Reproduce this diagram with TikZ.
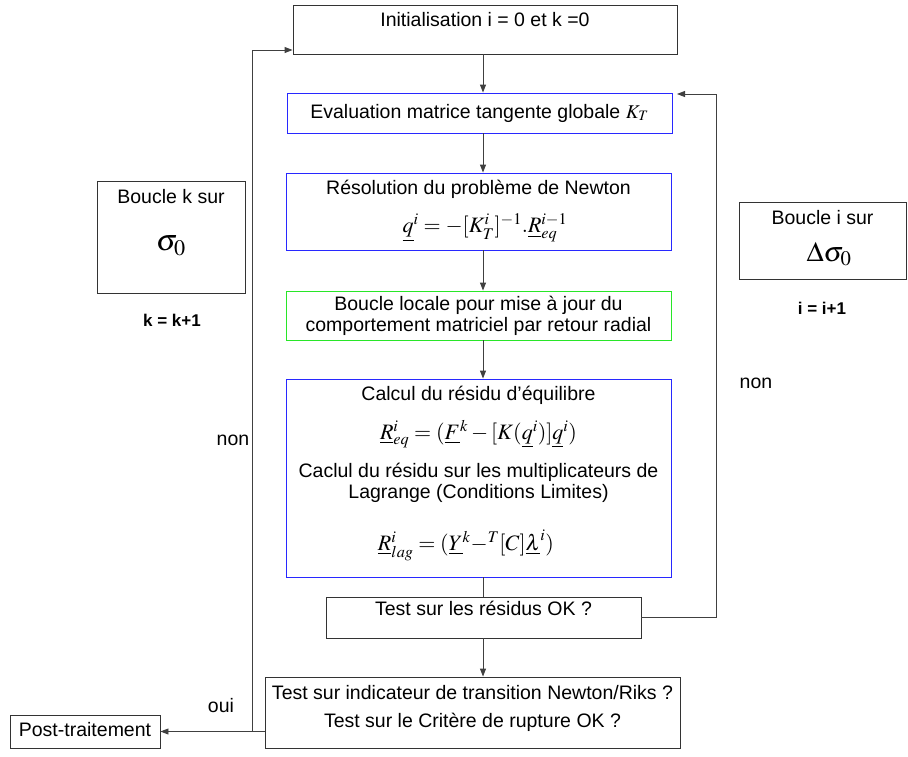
\documentclass[tikz,border=0pt]{standalone}
\usepackage{mathptmx}
\usepackage[no-math]{fontspec}
\setmainfont{Liberation Sans}
\usetikzlibrary{arrows.meta}
\definecolor{bblue}{RGB}{40,40,255}
\definecolor{bgreen}{RGB}{40,230,40}
\begin{document}
\begin{tikzpicture}[x=1pt,y=-1pt,
  font=\fontsize{19.5}{21}\selectfont,
  box/.style={draw=black!80, line width=0.9pt, inner sep=0pt, fill=white},
  bluebox/.style={box, draw=bblue},
  greenbox/.style={box, draw=bgreen},
  txt/.style={inner sep=0pt, align=center},
  mth/.style={inner sep=0pt, font=\fontsize{22}{24}\selectfont},
  conn/.style={draw=black!75, line width=0.9pt},
  arr/.style={conn, -{Triangle[length=8pt,width=6pt]}}]
\useasboundingbox (0,0) rectangle (908,756);
% boxes
\node[box, minimum width=384pt, minimum height=49pt] (init) at (485,29.5) {};
\node[bluebox, minimum width=385pt, minimum height=40pt] (eval) at (479.5,113) {};
\node[bluebox, minimum width=385pt, minimum height=77pt] (resol) at (478.5,211.5) {};
\node[greenbox, minimum width=385pt, minimum height=49pt] (local) at (478.5,315.5) {};
\node[bluebox, minimum width=385pt, minimum height=198pt] (calc) at (478.5,478) {};
\node[box, minimum width=315pt, minimum height=41pt] (testres) at (483.5,617.5) {};
\node[box, minimum width=415pt, minimum height=71pt] (final) at (472.5,712.5) {};
\node[box, minimum width=150pt, minimum height=33pt] (post) at (85,731.5) {};
\node[box, minimum width=148pt, minimum height=112pt] (bk) at (171,237) {};
\node[box, minimum width=167pt, minimum height=77pt] (bi) at (822.5,240.5) {};
% texts
\node[txt] (initT) at (485,20) {Initialisation i = 0 et k =0};
\node[txt] (evalT) at (479.5,113) {Evaluation matrice tangente globale $K_T$};
\node[txt] (resolT) at (478.5,189) {Résolution du problème de Newton};
\node[mth] (resolM) at (485,228) {$\underline{q}^{i} = -[K_T^{i}]^{-1}.\underline{R}_{eq}^{i-1}$};
\node[txt] (localT) at (478.5,315.5) {Boucle locale pour mise à jour du\\comportement matriciel par retour radial};
\node[txt] (calcT1) at (478.5,395) {Calcul du résidu d'équilibre};
\node[mth] (calcM1) at (478.5,434) {$\underline{R}^{i}_{eq} = (\underline{F}^{k} - [K(\underline{q}^{i})]\underline{q}^{i})$};
\node[txt] (calcT2) at (478.5,483) {Caclul du résidu sur les multiplicateurs de\\Lagrange (Conditions Limites)};
\node[mth] (calcM2) at (466,545) {$\underline{R}^{i}_{lag} = (\underline{Y}^{k} {-}^{T}[C]\underline{\lambda}^{i})$};
\node[txt] (testresT) at (483.5,608) {Test sur les résidus OK ?};
\node[txt] (finalT1) at (472.5,693) {Test sur indicateur de transition Newton/Riks ?};
\node[txt] (finalT2) at (472.5,722) {Test sur le Critère de rupture OK ?};
\node[txt] (postT) at (85,730) {Post-traitement};
\node[txt] (bkT) at (171,197) {Boucle k sur};
\node[txt, font=\fontsize{30}{32}\selectfont] (bkM) at (171,246) {$\sigma_{0}$};
\node[txt] (biT) at (822.5,218) {Boucle i sur};
\node[txt, font=\fontsize{28}{30}\selectfont] (biM) at (829,254) {$\Delta\sigma_{0}$};
\node[txt, font=\bfseries\fontsize{17}{19}\selectfont] (kinc) at (172,320) {k = k+1};
\node[txt, font=\bfseries\fontsize{17}{19}\selectfont] (iinc) at (822,308) {i = i+1};
\node[txt] (nonL) at (233,440) {non};
\node[txt] (nonR) at (756,383) {non};
\node[txt] (oui) at (221,706) {oui};
% connectors
\coordinate (ax) at (483,0);
\coordinate (rr) at (716,94);
\coordinate (evin) at (677,94);
\coordinate (ll) at (252,50);
\draw[arr] (init.south -| ax) -- (eval.north -| ax);
\draw[arr] (eval.south -| ax) -- (resol.north -| ax);
\draw[arr] (resol.south -| ax) -- (local.north -| ax);
\draw[arr] (local.south -| ax) -- (calc.north -| ax);
\draw[conn] (calc.south -| ax) -- (testres.north -| ax);
\draw[arr] (testres.south -| ax) -- (final.north -| ax);
\draw[arr] (testres.east) -| (rr) -- (evin);
\draw[arr] (final.west |- post.east) -- (post.east);
\draw[arr] (ll |- post.east) -- (ll) -- (init.west |- ll);
\end{tikzpicture}
\end{document}
